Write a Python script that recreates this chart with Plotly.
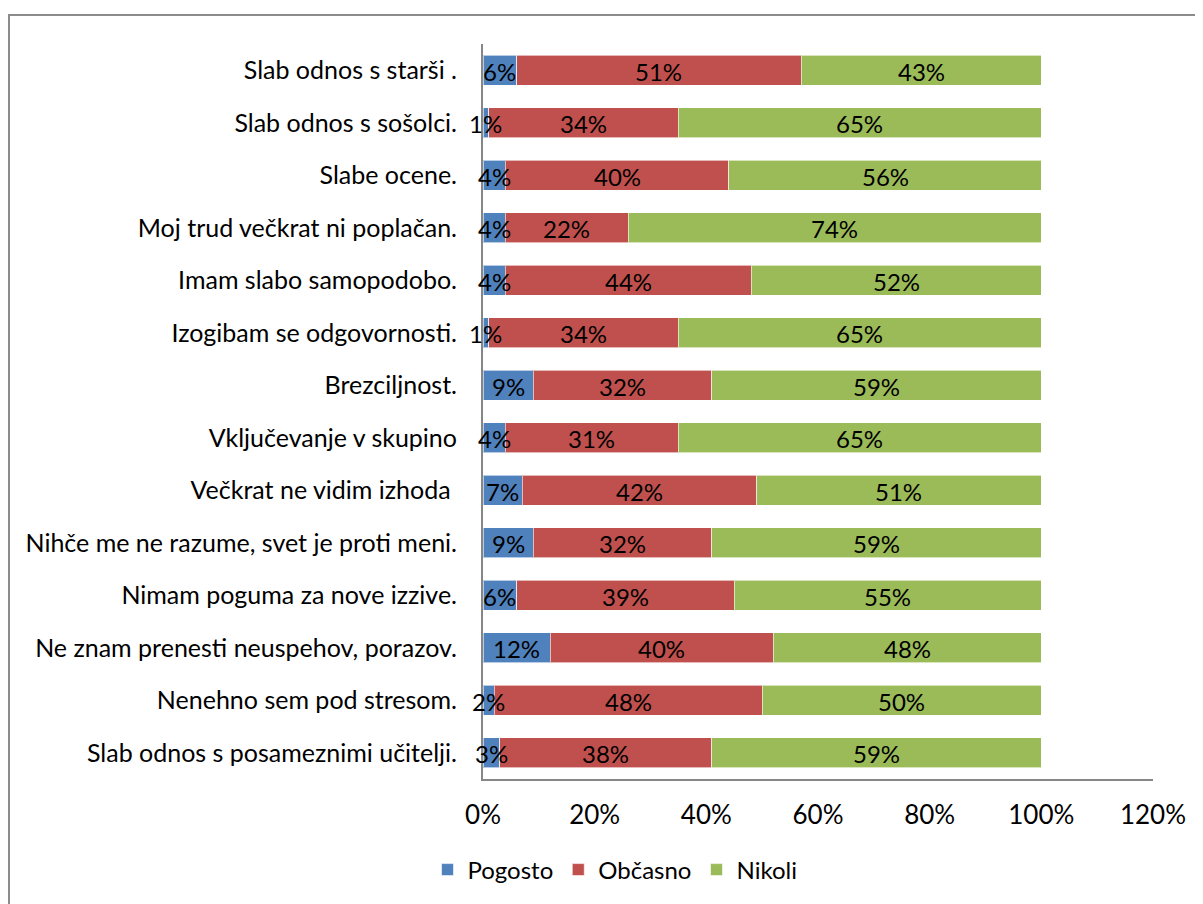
import plotly.graph_objects as go

categories = [
    "Slab odnos s starši .",
    "Slab odnos s sošolci.",
    "Slabe ocene.",
    "Moj trud večkrat ni poplačan.",
    "Imam slabo samopodobo.",
    "Izogibam se odgovornosti.",
    "Brezciljnost.",
    "Vključevanje v skupino",
    "Večkrat ne vidim izhoda ",
    "Nihče me ne razume, svet je proti meni.",
    "Nimam poguma za nove izzive.",
    "Ne znam prenesti neuspehov, porazov.",
    "Nenehno sem pod stresom.",
    "Slab odnos s posameznimi učitelji.",
]
pogosto = [6, 1, 4, 4, 4, 1, 9, 4, 7, 9, 6, 12, 2, 3]
obcasno = [51, 34, 40, 22, 44, 34, 32, 31, 42, 32, 39, 40, 48, 38]
nikoli = [43, 65, 56, 74, 52, 65, 59, 65, 51, 59, 55, 48, 50, 59]

series = [
    ("Pogosto", pogosto, "#4F81BD"),
    ("Občasno", obcasno, "#C0504D"),
    ("Nikoli", nikoli, "#9BBB59"),
]
tick_vals = [0, 0.2, 0.4, 0.6, 0.8, 1.0, 1.2]
tick_text = ["0%", "20%", "40%", "60%", "80%", "100%", "120%"]

FONT = "Lato"
FS = 25
FS_X = 26
FS_LABEL = 24
FS_LEGEND = 24

fig = go.Figure()
base = [0.0] * len(categories)
label_x, label_y, label_t = [], [], []
for name, vals, color in series:
    xs = [v / 100 for v in vals]
    fig.add_trace(go.Bar(
        y=categories,
        x=xs,
        name=name,
        orientation="h",
        marker=dict(color=color, line=dict(color="rgba(255,255,255,0.6)", width=1)),
        textposition="none",
        hoverinfo="skip",
    ))
    for i, (c, v) in enumerate(zip(categories, xs)):
        label_x.append(base[i] + v / 2)
        label_y.append(c)
        label_t.append(f"{vals[i]}%")
        base[i] += v

for x, y, t in zip(label_x, label_y, label_t):
    fig.add_annotation(
        x=x, y=y, text=t, showarrow=False, xanchor="center", yanchor="middle",
        yshift=-1, font=dict(family=FONT, size=FS_LABEL, color="black"),
    )

# page body has an 8px margin, so positions are shifted by -8
OFF = 8
W, H = 1203, 904
L = 483 - OFF
T = 44 - OFF
R = W - (1153 - OFF)
B = H - (779 - OFF)
pw, ph = W - L - R, H - T - B
n = len(categories)

fig.update_layout(
    width=W, height=H,
    barmode="stack",
    bargap=0.43,
    margin=dict(l=L, r=R, t=T, b=B, autoexpand=False),
    paper_bgcolor="white",
    plot_bgcolor="white",
    font=dict(family=FONT, size=FS, color="black"),
    showlegend=True,
    legend=dict(
        orientation="h",
        x=(615 - OFF - L) / pw, xanchor="center",
        y=-(870 - OFF - (T + ph)) / ph, yanchor="middle",
        font=dict(family=FONT, size=FS_LEGEND, color="black"),
        itemwidth=30,
        traceorder="normal",
    ),
    xaxis=dict(
        range=[0, 1.2],
        tickvals=tick_vals,
        ticktext=tick_text,
        showgrid=False,
        zeroline=False,
        showline=True,
        linecolor="#868686",
        linewidth=2,
        ticks="outside",
        ticklen=12,
        tickcolor="rgba(0,0,0,0)",
        tickfont=dict(family=FONT, size=FS_X, color="black"),
    ),
    yaxis=dict(
        categoryorder="array",
        categoryarray=categories,
        range=[n - 0.5, -0.5],
        autorange=False,
        showgrid=False,
        zeroline=False,
        showline=True,
        linecolor="#868686",
        linewidth=2,
        ticks="outside",
        ticklen=19,
        tickcolor="rgba(0,0,0,0)",
        tickfont=dict(family=FONT, size=FS, color="black"),
    ),
)

# outer chart border (extends beyond the cropped image edges)
x0 = (8 - OFF - L) / pw
x1 = (W + 20 - L) / pw
y1 = (H - (15 - OFF) - B) / ph
y0 = (-20 - B) / ph
fig.add_shape(type="rect", xref="paper", yref="paper",
              x0=x0 + 1 / pw, x1=x1, y0=y0, y1=y1,
              line=dict(color="#8C8C8C", width=2), fillcolor="rgba(0,0,0,0)",
              layer="below")

fig.write_html("out.html")
